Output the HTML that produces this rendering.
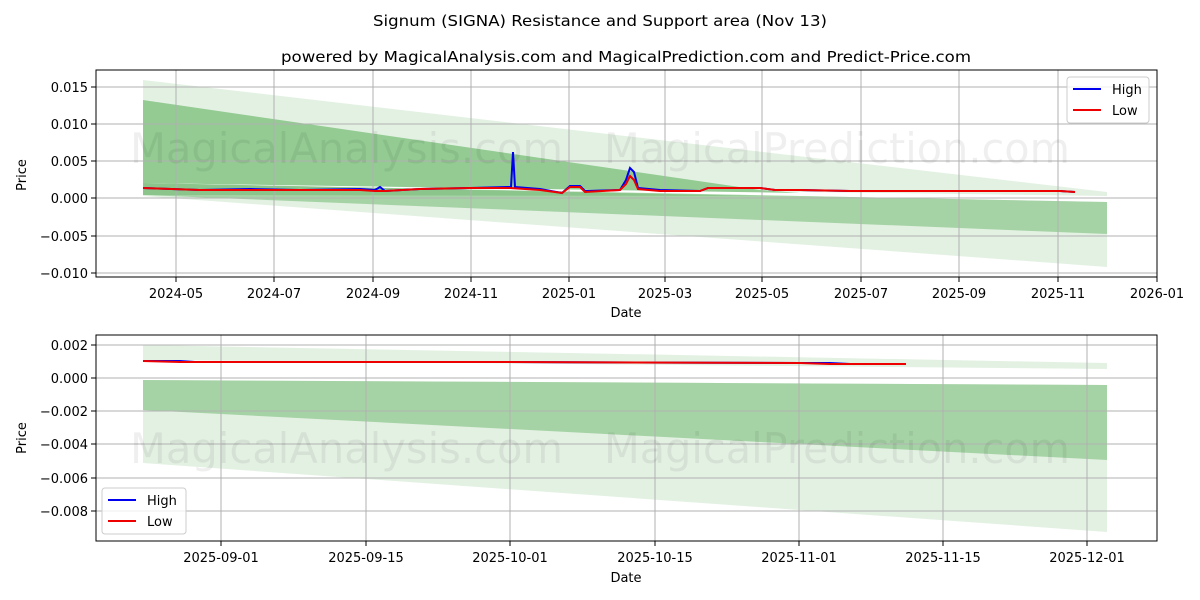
<!DOCTYPE html>
<html><head><meta charset="utf-8"><style>
body{margin:0;background:#fff;}
svg{display:block;font-family:"DejaVu Sans","Liberation Sans",sans-serif;}
</style></head><body>
<svg width="1200" height="600" viewBox="0 0 1200 600" xmlns="http://www.w3.org/2000/svg">
<rect width="1200" height="600" fill="#fff"/>
<text x="373" y="26" font-size="15" textLength="454" lengthAdjust="spacingAndGlyphs">Signum (SIGNA) Resistance and Support area (Nov 13)</text>
<text x="281" y="62" font-size="15" textLength="690" lengthAdjust="spacingAndGlyphs">powered by MagicalAnalysis.com and MagicalPrediction.com and Predict-Price.com</text>

<!-- TOP CHART -->
<g>
<polygon points="143,80 1107,192 1107,196 143,100" fill="#e3f1e3"/>
<polygon points="143,100 1107,194 1107,196 143,183" fill="#e3f1e3"/>
<polygon points="143,100 760,190 800,193 143,183" fill="#93cb93"/>
<polygon points="143,183 1107,202 1107,267 143,196" fill="#e3f1e3"/>
<polygon points="143,183 1107,202 1107,234 143,195" fill="#a6d3a6"/>
<polygon points="143,183 760,196 143,195" fill="#6fb86f" opacity="0.5"/>
<g stroke="#b0b0b0" stroke-width="1">
<line x1="176" y1="70" x2="176" y2="277"/><line x1="274" y1="70" x2="274" y2="277"/>
<line x1="373" y1="70" x2="373" y2="277"/><line x1="471" y1="70" x2="471" y2="277"/>
<line x1="569" y1="70" x2="569" y2="277"/><line x1="665" y1="70" x2="665" y2="277"/>
<line x1="762" y1="70" x2="762" y2="277"/><line x1="861" y1="70" x2="861" y2="277"/>
<line x1="959" y1="70" x2="959" y2="277"/><line x1="1058" y1="70" x2="1058" y2="277"/>
<line x1="96" y1="87" x2="1157" y2="87"/><line x1="96" y1="124" x2="1157" y2="124"/>
<line x1="96" y1="161" x2="1157" y2="161"/><line x1="96" y1="198" x2="1157" y2="198"/>
<line x1="96" y1="236" x2="1157" y2="236"/><line x1="96" y1="273" x2="1157" y2="273"/>
</g>
<g font-size="42" fill="#000" opacity="0.06">
<text x="130" y="163" textLength="433" lengthAdjust="spacingAndGlyphs">MagicalAnalysis.com</text>
<text x="604" y="163" textLength="466" lengthAdjust="spacingAndGlyphs">MagicalPrediction.com</text>
</g>
<polyline fill="none" stroke="#0000ee" stroke-width="2" points="143,188 200,190 250,189 300,190 360,189 375,190 380,187 385,191 420,189 470,188 508,187 511,187 513,152 515,187 540,189 562,193 570,186 580,186 585,191 620,190 626,180 630,168 634,172 638,188 660,190 700,191 708,188 760,188 775,190 800,190 850,191 950,191 1000,191 1060,191 1075,192"/>
<polyline fill="none" stroke="#ee0000" stroke-width="2" points="143,188 200,190 250,190 300,190 360,190 375,191 385,191 420,189 470,188 510,188 540,190 562,193 570,187 580,187 585,192 620,190 626,184 630,176 634,180 638,189 660,191 700,191 708,188 760,188 775,190 800,190 850,191 950,191 1000,191 1060,191 1075,192"/>
<rect x="96" y="70" width="1061" height="207" fill="none" stroke="#000" stroke-width="1"/>
<g font-size="13" text-anchor="end">
<text x="88" y="92">0.015</text><text x="88" y="129">0.010</text><text x="88" y="166">0.005</text>
<text x="88" y="203">0.000</text><text x="88" y="241">−0.005</text><text x="88" y="278">−0.010</text>
</g>
<g stroke="#000"><line x1="91" y1="87" x2="96" y2="87"/><line x1="91" y1="124" x2="96" y2="124"/><line x1="91" y1="161" x2="96" y2="161"/><line x1="91" y1="198" x2="96" y2="198"/><line x1="91" y1="236" x2="96" y2="236"/><line x1="91" y1="273" x2="96" y2="273"/>
<line x1="176" y1="277" x2="176" y2="282"/><line x1="274" y1="277" x2="274" y2="282"/><line x1="373" y1="277" x2="373" y2="282"/><line x1="471" y1="277" x2="471" y2="282"/><line x1="569" y1="277" x2="569" y2="282"/><line x1="665" y1="277" x2="665" y2="282"/><line x1="762" y1="277" x2="762" y2="282"/><line x1="861" y1="277" x2="861" y2="282"/><line x1="959" y1="277" x2="959" y2="282"/><line x1="1058" y1="277" x2="1058" y2="282"/><line x1="1157" y1="277" x2="1157" y2="282"/></g>
<g font-size="13" text-anchor="middle">
<text x="176" y="298">2024-05</text><text x="274" y="298">2024-07</text><text x="373" y="298">2024-09</text><text x="471" y="298">2024-11</text><text x="569" y="298">2025-01</text><text x="665" y="298">2025-03</text><text x="762" y="298">2025-05</text><text x="861" y="298">2025-07</text><text x="959" y="298">2025-09</text><text x="1058" y="298">2025-11</text><text x="1157" y="298">2026-01</text>
<text x="626" y="317">Date</text>
</g>
<text x="26" y="175" font-size="13" text-anchor="middle" transform="rotate(-90 26 175)">Price</text>
<rect x="1067" y="77" width="82" height="46" rx="3" fill="#fff" fill-opacity="0.8" stroke="#ccc"/>
<line x1="1073" y1="89" x2="1101" y2="89" stroke="#0000ee" stroke-width="2"/><text x="1112" y="94" font-size="13">High</text>
<line x1="1073" y1="110" x2="1101" y2="110" stroke="#ee0000" stroke-width="2"/><text x="1112" y="115" font-size="13">Low</text>
</g>

<!-- BOTTOM CHART -->
<g>
<polygon points="143,345 1107,363 1107,369 143,360" fill="#e3f1e3"/>
<polygon points="143,380 1107,385 1107,532 143,463" fill="#e3f1e3"/>
<polygon points="143,380 1107,385 1107,460 143,410" fill="#a6d3a6"/>
<g stroke="#b0b0b0" stroke-width="1">
<line x1="221" y1="335" x2="221" y2="541"/><line x1="366" y1="335" x2="366" y2="541"/><line x1="510" y1="335" x2="510" y2="541"/><line x1="655" y1="335" x2="655" y2="541"/><line x1="799" y1="335" x2="799" y2="541"/><line x1="943" y1="335" x2="943" y2="541"/><line x1="1087" y1="335" x2="1087" y2="541"/>
<line x1="96" y1="345" x2="1157" y2="345"/><line x1="96" y1="378" x2="1157" y2="378"/><line x1="96" y1="411" x2="1157" y2="411"/><line x1="96" y1="444" x2="1157" y2="444"/><line x1="96" y1="478" x2="1157" y2="478"/><line x1="96" y1="511" x2="1157" y2="511"/>
</g>
<g font-size="42" fill="#000" opacity="0.06">
<text x="130" y="463" textLength="433" lengthAdjust="spacingAndGlyphs">MagicalAnalysis.com</text>
<text x="604" y="463" textLength="466" lengthAdjust="spacingAndGlyphs">MagicalPrediction.com</text>
</g>
<polyline fill="none" stroke="#0000ee" stroke-width="2" points="143,361 180,361 195,362 500,362 800,363 830,363 850,364 906,364"/>
<polyline fill="none" stroke="#ee0000" stroke-width="2" points="143,361 180,362 195,362 500,362 800,363 830,364 850,364 906,364"/>
<rect x="96" y="335" width="1061" height="206" fill="none" stroke="#000" stroke-width="1"/>
<g font-size="13" text-anchor="end">
<text x="88" y="350">0.002</text><text x="88" y="383">0.000</text><text x="88" y="416">−0.002</text><text x="88" y="449">−0.004</text><text x="88" y="483">−0.006</text><text x="88" y="516">−0.008</text>
</g>
<g stroke="#000"><line x1="91" y1="345" x2="96" y2="345"/><line x1="91" y1="378" x2="96" y2="378"/><line x1="91" y1="411" x2="96" y2="411"/><line x1="91" y1="444" x2="96" y2="444"/><line x1="91" y1="478" x2="96" y2="478"/><line x1="91" y1="511" x2="96" y2="511"/>
<line x1="221" y1="541" x2="221" y2="546"/><line x1="366" y1="541" x2="366" y2="546"/><line x1="510" y1="541" x2="510" y2="546"/><line x1="655" y1="541" x2="655" y2="546"/><line x1="799" y1="541" x2="799" y2="546"/><line x1="943" y1="541" x2="943" y2="546"/><line x1="1087" y1="541" x2="1087" y2="546"/></g>
<g font-size="13" text-anchor="middle">
<text x="221" y="562">2025-09-01</text><text x="366" y="562">2025-09-15</text><text x="510" y="562">2025-10-01</text><text x="655" y="562">2025-10-15</text><text x="799" y="562">2025-11-01</text><text x="943" y="562">2025-11-15</text><text x="1087" y="562">2025-12-01</text>
<text x="626" y="582">Date</text>
</g>
<text x="26" y="438" font-size="13" text-anchor="middle" transform="rotate(-90 26 438)">Price</text>
<rect x="102" y="488" width="84" height="46" rx="3" fill="#fff" fill-opacity="0.8" stroke="#ccc"/>
<line x1="108" y1="500" x2="136" y2="500" stroke="#0000ee" stroke-width="2"/><text x="147" y="505" font-size="13">High</text>
<line x1="108" y1="521" x2="136" y2="521" stroke="#ee0000" stroke-width="2"/><text x="147" y="526" font-size="13">Low</text>
</g>
</svg>
</body></html>
